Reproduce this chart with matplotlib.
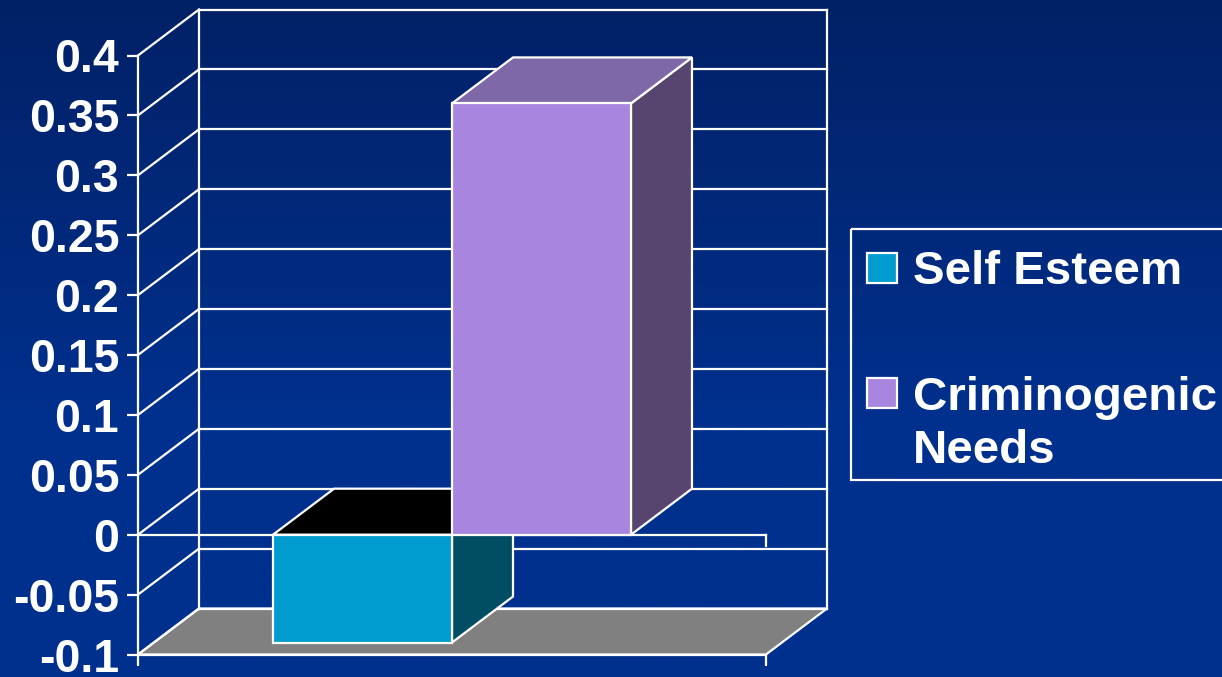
import numpy as np
import matplotlib
matplotlib.use("Agg")
import matplotlib.pyplot as plt
from matplotlib.patches import Polygon, Rectangle

# Effect sizes by treatment target
legend_labels = ["Self Esteem", "Criminogenic\nNeeds"]
series_values = [-0.09, 0.36]
tick_values = [-0.1, -0.05, 0, 0.05, 0.1, 0.15, 0.2, 0.25, 0.3, 0.35, 0.4]
tick_labels = ["-0.1", "-0.05", "0", "0.05", "0.1", "0.15", "0.2", "0.25", "0.3", "0.35", "0.4"]

front_colors = ["#009ccf", "#a886df"]
top_colors = ["#000000", "#7f68a8"]
side_colors = ["#014e64", "#574570"]

W, H = 1222, 677
plt.rcParams["font.family"] = ["Liberation Sans", "DejaVu Sans"]
plt.rcParams["font.weight"] = "bold"
LW = 1.6

fig = plt.figure(figsize=(W / 100, H / 100), dpi=100)


def fig_box(left, top, right, bottom):
    return [left / W, 1 - bottom / H, (right - left) / W, (bottom - top) / H]


# background gradient, darker at the top
bg = fig.add_axes([0, 0, 1, 1], zorder=0)
bg.axis("off")
top_rgb = np.array([2, 33, 102]) / 255
bottom_rgb = np.array([0, 48, 142]) / 255
t = np.linspace(0, 1, 256)[:, None, None]
bg.imshow(top_rgb + (bottom_rgb - top_rgb) * np.clip(t * 1.6, 0, 1), aspect="auto")

ax = fig.add_axes(fig_box(138, 55.5, 766, 654.5), zorder=1)
ax.patch.set_visible(False)
ax.set_xlim(0, 1)
ax.set_ylim(-0.1, 0.4)

# fake 3D depth, in data units
depth_x = 61 / 628
depth_y = 46 / 599 * 0.5
bar_width = 0.285
group_center = 0.5

for s in ["top", "right"]:
    ax.spines[s].set_visible(False)
for s in ["left", "bottom"]:
    ax.spines[s].set_color("white")
    ax.spines[s].set_linewidth(LW)

ax.set_yticks(tick_values)
ax.set_yticklabels(tick_labels, fontsize=33.5, fontweight="bold", color="white", va="center_baseline")
ax.set_xticks([0, 1])
ax.set_xticklabels(["", ""])
ax.tick_params(axis="both", color="white", width=LW, length=8)
ax.tick_params(axis="y", pad=5.5)

line = dict(color="white", lw=LW, clip_on=False, zorder=2, solid_capstyle="projecting")

# floor
ax.add_patch(Polygon([(0, -0.1), (1, -0.1), (1 + depth_x, -0.1 + depth_y), (depth_x, -0.1 + depth_y)],
                     closed=True, facecolor="#808080", edgecolor="white", lw=LW, clip_on=False, zorder=1.5))

# back wall gridlines and side wall diagonals
for v in tick_values:
    ax.plot([depth_x, 1 + depth_x], [v + depth_y, v + depth_y], **line)
    ax.plot([0, depth_x], [v, v + depth_y], **line)
ax.plot([depth_x, depth_x], [-0.1 + depth_y, 0.4 + depth_y], **line)
ax.plot([1 + depth_x, 1 + depth_x], [-0.1 + depth_y, 0.4 + depth_y], **line)

# zero line with its end tick
ax.plot([0, 1], [0, 0], **line)
ax.plot([1, 1], [0, -0.0092], **line)


def draw_box(x0, x1, value, front, top, side, z):
    y0, y1 = min(0, value), max(0, value)
    edge = dict(edgecolor="white", lw=LW, clip_on=False, zorder=z, joinstyle="miter")
    ax.add_patch(Polygon([(x1, y0), (x1 + depth_x, y0 + depth_y), (x1 + depth_x, y1 + depth_y), (x1, y1)],
                         closed=True, facecolor=side, **edge))
    ax.add_patch(Polygon([(x0, y1), (x1, y1), (x1 + depth_x, y1 + depth_y), (x0 + depth_x, y1 + depth_y)],
                         closed=True, facecolor=top, **edge))
    ax.add_patch(Rectangle((x0, y0), x1 - x0, y1 - y0, facecolor=front, **edge))


for i, value in enumerate(series_values):
    x0 = group_center + (i - 1) * bar_width
    draw_box(x0, x0 + bar_width, value, front_colors[i], top_colors[i], side_colors[i], 3 + i)

# legend box, runs off the right edge
px = fig.add_axes([0, 0, 1, 1], zorder=2)
px.set_xlim(0, W)
px.set_ylim(H, 0)
px.axis("off")
px.add_patch(Rectangle((851, 229), 420, 251, facecolor="none", edgecolor="white", lw=LW))
swatch_tops = [253, 378]
text_tops = [250, 376]
for i, label in enumerate(legend_labels):
    px.add_patch(Rectangle((867, swatch_tops[i]), 30, 30, facecolor=front_colors[i], edgecolor="white", lw=LW))
    px.text(913, text_tops[i], label, color="white", fontsize=34.2, fontweight="bold", va="top", ha="left",
            linespacing=1.27)

fig.savefig("out.png", dpi=100)
